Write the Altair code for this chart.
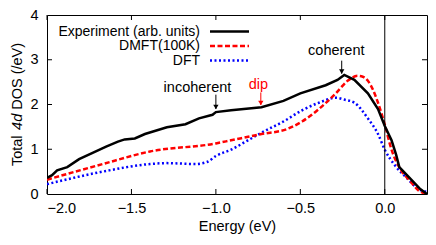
import altair as alt
import pandas as pd

# --- data ---
exp_x = [-2.0, -1.97, -1.94, -1.88, -1.81, -1.73, -1.65, -1.58, -1.54, -1.48, -1.42, -1.29,
         -1.18, -1.1, -1.02, -1.0, -0.91, -0.73, -0.6, -0.5, -0.35, -0.28, -0.24, -0.18,
         -0.1, -0.04, 0.0, 0.04, 0.067, 0.086, 0.13, 0.21, 0.25]
exp_y = [0.36, 0.42, 0.53, 0.60, 0.78, 0.92, 1.06, 1.17, 1.22, 1.24, 1.34, 1.49,
         1.56, 1.69, 1.77, 1.83, 1.87, 1.94, 2.08, 2.25, 2.43, 2.55, 2.66, 2.55,
         2.25, 1.90, 1.52, 1.2, 0.88, 0.60, 0.43, 0.11, 0.0]

dmft_x = [-2.0, -1.67, -1.39, -1.0, -0.91, -0.73, -0.58, -0.49, -0.39, -0.29, -0.22,
          -0.16, -0.13, -0.1, -0.04, 0.0, 0.04, 0.09, 0.15, 0.2, 0.25]
dmft_y = [0.32, 0.67, 0.95, 1.13, 1.2, 1.34, 1.45, 1.62, 1.9, 2.25, 2.53,
          2.64, 2.62, 2.53, 2.04, 1.55, 0.99, 0.57, 0.29, 0.08, 0.0]

dft_x = [-2.0, -1.67, -1.39, -1.29, -1.12, -1.05, -1.0, -0.91, -0.81, -0.71, -0.6, -0.49,
         -0.39, -0.29, -0.24, -0.18, -0.1, -0.04, 0.0, 0.06, 0.13, 0.2, 0.25]
dft_y = [0.22, 0.5, 0.67, 0.69, 0.67, 0.72, 0.85, 0.99, 1.2, 1.41, 1.62, 1.87,
         2.04, 2.15, 2.11, 2.04, 1.69, 1.34, 0.99, 0.64, 0.36, 0.11, 0.05]

series_names = ["Experiment (arb. units)", "DMFT(100K)", "DFT"]
series_colors = ["black", "red", "blue"]

x_ticks = [-2.0, -1.5, -1.0, -0.5, 0.0]
y_ticks = [0, 1, 2, 3, 4]

ann_labels = ["coherent", "incoherent", "dip"]
ann_colors = ["black", "black", "red"]
ann_text_x = [-0.287, -1.109, -0.748]
ann_text_y = [3.2, 2.36, 2.43]
ann_arrow_x = [-0.255, -1.0, -0.734]
ann_arrow_top = [2.98, 2.22, 2.27]
ann_arrow_tip = [2.69, 1.90, 1.99]

# --- layout ---
W, H = 380, 179
FONT = "Liberation Sans"
FS = 14.5

xs = alt.Scale(domain=[-2.0, 0.25], nice=False, zero=False)
ys = alt.Scale(domain=[0, 4], nice=False, zero=False)

xaxis = alt.Axis(values=x_ticks, format=".1f", ticks=False, tickSize=0, domain=False, grid=False,
                 labelPadding=7, title="Energy (eV)", titlePadding=5)
yaxis = alt.Axis(values=y_ticks, format="d", ticks=False, tickSize=0, domain=False, grid=False,
                 labelPadding=9, title=None)

def line(xv, yv, color, dash, interp):
    df = pd.DataFrame({"x": xv, "y": yv})
    kw = dict(color=color, strokeWidth=2.5, interpolate=interp, clip=True)
    if dash:
        kw["strokeDash"] = dash
    return alt.Chart(df).mark_line(**kw).encode(
        x=alt.X("x:Q", scale=xs, axis=xaxis),
        y=alt.Y("y:Q", scale=ys, axis=yaxis),
    )

dashes = [None, [5, 2.5], [2, 2.5]]

l_dft = line(dft_x, dft_y, "blue", dashes[2], "monotone")
l_dmft = line(dmft_x, dmft_y, "red", dashes[1], "monotone")
l_exp = line(exp_x, exp_y, "black", None, "linear")

zero_line = alt.Chart(pd.DataFrame({"x": [0.0]})).mark_rule(color="black", strokeWidth=1).encode(
    x=alt.X("x:Q", scale=xs))

xt = pd.DataFrame({"x": x_ticks})
yt = pd.DataFrame({"y": y_ticks[1:-1]})
TL = 5
ticks = [
    alt.Chart(xt).mark_rule(color="black").encode(x=alt.X("x:Q", scale=xs), y=alt.value(H), y2=alt.value(H - TL)),
    alt.Chart(xt).mark_rule(color="black").encode(x=alt.X("x:Q", scale=xs), y=alt.value(0), y2=alt.value(TL)),
    alt.Chart(yt).mark_rule(color="black").encode(y=alt.Y("y:Q", scale=ys), x=alt.value(0), x2=alt.value(TL)),
    alt.Chart(yt).mark_rule(color="black").encode(y=alt.Y("y:Q", scale=ys), x=alt.value(W), x2=alt.value(W - TL)),
]

ann = pd.DataFrame({"label": ann_labels, "c": ann_colors, "tx": ann_text_x, "ty": ann_text_y,
                    "ax": ann_arrow_x, "a1": ann_arrow_top, "a2": ann_arrow_tip})
ann_text = alt.Chart(ann).mark_text(font=FONT, fontSize=FS, baseline="middle", align="center").encode(
    x=alt.X("tx:Q", scale=xs), y=alt.Y("ty:Q", scale=ys),
    text="label:N", color=alt.Color("c:N", scale=None))
ann_shaft = alt.Chart(ann).mark_rule(strokeWidth=1).encode(
    x=alt.X("ax:Q", scale=xs), y=alt.Y("a1:Q", scale=ys), y2="a2:Q",
    color=alt.Color("c:N", scale=None))
ann_head = alt.Chart(ann).mark_point(shape="triangle-down", filled=True, size=28, opacity=1, yOffset=-2).encode(
    x=alt.X("ax:Q", scale=xs), y=alt.Y("a2:Q", scale=ys),
    color=alt.Color("c:N", scale=None))

# legend (gnuplot style: label then sample)
leg_rows = [16.5, 31, 45.5]
LFS = 14
legend_layers = []
for name, col, dash, ry in zip(series_names, series_colors, dashes, leg_rows):
    d = pd.DataFrame({"label": [name]})
    legend_layers.append(alt.Chart(d).mark_text(font=FONT, fontSize=LFS, align="right", baseline="middle",
                                                color="black").encode(
        x=alt.value(153), y=alt.value(ry), text="label:N"))
    kw = dict(color=col, strokeWidth=2.5)
    if dash:
        kw["strokeDash"] = dash
    legend_layers.append(alt.Chart(d).mark_rule(**kw).encode(
        x=alt.value(163), x2=alt.value(202), y=alt.value(ry)))

# y-axis title with italic "4d"
cy = H / 2
w_total, w_sp, w_4d, w_dos = 32.2, 4.0, 16.1, 66.9
start = cy + (w_total + w_sp + w_4d + w_sp + w_dos) / 2
title_parts = [("Total", "normal", start),
               ("4d", "italic", start - w_total - w_sp),
               ("DOS (/eV)", "normal", start - w_total - w_sp - w_4d - w_sp)]
title_layers = []
for txt, style, yy in title_parts:
    title_layers.append(alt.Chart(pd.DataFrame({"t": [txt]})).mark_text(
        font=FONT, fontSize=FS, fontStyle=style, angle=270, align="left", baseline="middle",
        color="black").encode(x=alt.value(-29), y=alt.value(yy), text="t:N"))

chart = alt.layer(
    l_dft, l_dmft, l_exp, zero_line, *ticks, ann_shaft, ann_head, ann_text,
    *legend_layers, *title_layers
).properties(
    width=W, height=H,
    autosize=alt.AutoSizeParams(type="none"),
    padding={"left": 39, "top": 7, "right": 1, "bottom": 43},
).configure_view(
    stroke="black", strokeWidth=1
).configure_axis(
    labelFont=FONT, labelFontSize=FS, labelColor="black",
    titleFont=FONT, titleFontSize=FS, titleColor="black", titleFontWeight="normal",
)

chart.save("out.html", embed_options={"renderer": "svg", "actions": False})
